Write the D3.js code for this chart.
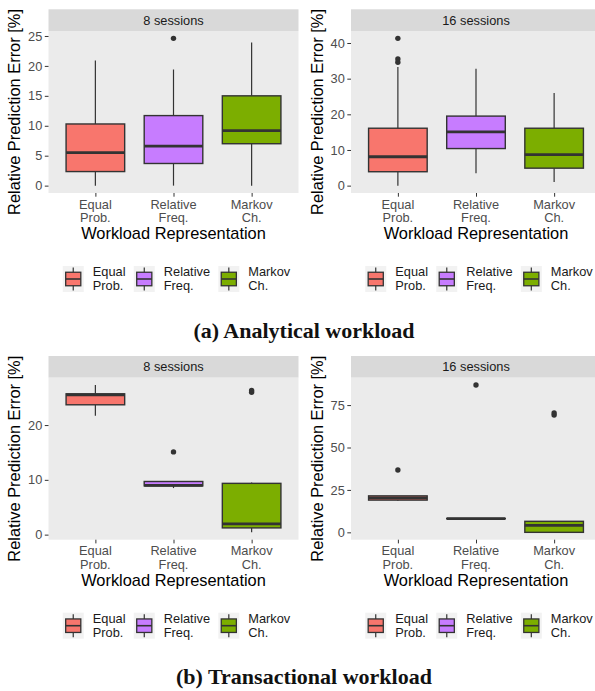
<!DOCTYPE html>
<html>
<head>
<meta charset="utf-8">
<script src="https://cdn.jsdelivr.net/npm/d3@7"></script>
<style>
  body { margin: 0; background: #fff; }
  svg text { font-family: "Liberation Sans", Arial, sans-serif; }
</style>
</head>
<body>
<svg id="chart"></svg>
<script>
// categories and their two-line tick labels
var categories = ["Equal Prob.", "Relative Freq.", "Markov Ch."];
var tickLines = [["Equal", "Prob."], ["Relative", "Freq."], ["Markov", "Ch."]];
var fills = ["#F8766D", "#C77CFF", "#7CAE00"];

// box stats: [lower whisker, Q1, median, Q3, upper whisker]
var analytical8 = [[0, 2.35, 5.5, 10.3, 20.9], [0, 3.7, 6.6, 11.7, 19.4], [0, 7.0, 9.2, 15.0, 23.9]];
var analytical8Outliers = [[], [24.6], []];
var analytical8Ticks = [0, 5, 10, 15, 20, 25];

var analytical16 = [[0, 3.9, 8.1, 16.1, 33.3], [3.5, 10.4, 15.1, 19.5, 32.8], [1.0, 4.9, 8.7, 16.1, 26.0]];
var analytical16Outliers = [[34.6, 35.5, 41.3], [], []];
var analytical16Ticks = [0, 10, 20, 30, 40];

var transactional8 = [[21.7, 23.7, 25.5, 25.7, 27.3], [8.5, 8.9, 9.0, 9.7, 9.7], [0.42, 1.23, 1.96, 9.36, 9.5]];
var transactional8Outliers = [[], [15.1], [26.0, 26.3]];
var transactional8Ticks = [0, 10, 20];

var transactional16 = [[18.6, 19.0, 20.3, 21.5, 21.5], [8.0, 8.05, 8.1, 8.15, 8.2], [0, 0, 4.1, 6.5, 6.5]];
var transactional16Outliers = [[36.7], [86.8], [69.1, 70.3]];
var transactional16Ticks = [0, 25, 50, 75];

var width = 595, height = 691;
var svg = d3.select("#chart").attr("width", width).attr("height", height);

var panelW = 250, stripH = 21.7, panelH = 162;
var dark = "#333333";

function drawPlot(left, top, stats, outliers, ticks, title) {
    var g = svg.append("g");
    var pTop = top + stripH, pBot = pTop + panelH;

    var x = d3.scalePoint().domain(categories).range([left, left + panelW]).padding(0.6);
    var boxW = x.step() * 0.75;

    var all = [];
    stats.forEach(function (s) { all = all.concat(s); });
    outliers.forEach(function (o) { all = all.concat(o); });
    var ext = d3.extent(all), pad = (ext[1] - ext[0]) * 0.05;
    var y = d3.scaleLinear().domain([ext[0] - pad, ext[1] + pad]).range([pBot, pTop]);

    // strip
    g.append("rect").attr("x", left).attr("y", top).attr("width", panelW).attr("height", stripH)
        .attr("fill", "#d9d9d9");
    g.append("text").attr("x", left + panelW / 2).attr("y", top + stripH / 2 + 4.5)
        .attr("text-anchor", "middle").attr("font-size", "12.8px").attr("fill", "#1a1a1a")
        .text(title);

    // panel
    g.append("rect").attr("x", left).attr("y", pTop).attr("width", panelW).attr("height", panelH)
        .attr("fill", "#ebebeb");

    // boxes
    stats.forEach(function (s, i) {
        var cx = x(categories[i]);
        g.append("line").attr("x1", cx).attr("x2", cx).attr("y1", y(s[4])).attr("y2", y(s[3]))
            .attr("stroke", dark).attr("stroke-width", 1.2);
        g.append("line").attr("x1", cx).attr("x2", cx).attr("y1", y(s[1])).attr("y2", y(s[0]))
            .attr("stroke", dark).attr("stroke-width", 1.2);
        g.append("rect").attr("x", cx - boxW / 2).attr("y", y(s[3]))
            .attr("width", boxW).attr("height", Math.max(0, y(s[1]) - y(s[3])))
            .attr("fill", fills[i]).attr("stroke", dark).attr("stroke-width", 1.4);
        g.append("line").attr("x1", cx - boxW / 2).attr("x2", cx + boxW / 2)
            .attr("y1", y(s[2])).attr("y2", y(s[2]))
            .attr("stroke", dark).attr("stroke-width", 2.8);
        outliers[i].forEach(function (v) {
            g.append("circle").attr("cx", cx).attr("cy", y(v)).attr("r", 2.7).attr("fill", dark);
        });
    });

    // y axis
    var ya = g.append("g").attr("transform", "translate(" + left + ",0)")
        .call(d3.axisLeft(y).tickValues(ticks).tickSize(3.7).tickPadding(2.5));
    ya.select(".domain").remove();
    ya.selectAll(".tick line").attr("stroke", dark).attr("stroke-width", 1);
    ya.selectAll(".tick text").attr("font-size", "12.8px").attr("fill", "#4d4d4d")
        .attr("font-family", "Liberation Sans, Arial, sans-serif");

    // x axis
    var xa = g.append("g").attr("transform", "translate(0," + pBot + ")")
        .call(d3.axisBottom(x).tickSize(3.7).tickFormat(""));
    xa.select(".domain").remove();
    xa.selectAll(".tick line").attr("stroke", dark).attr("stroke-width", 1);
    tickLines.forEach(function (lines, i) {
        lines.forEach(function (t, j) {
            g.append("text").attr("x", x(categories[i])).attr("y", pBot + 15.5 + j * 13.5)
                .attr("text-anchor", "middle").attr("font-size", "12.8px").attr("fill", "#4d4d4d")
                .text(t);
        });
    });

    // axis titles
    g.append("text").attr("x", left + panelW / 2).attr("y", pBot + 46)
        .attr("text-anchor", "middle").attr("font-size", "16.4px").attr("fill", "#000")
        .text("Workload Representation");
    g.append("text")
        .attr("transform", "translate(" + (left - 28.5) + "," + (pTop + panelH / 2) + ") rotate(-90)")
        .attr("text-anchor", "middle").attr("font-size", "16.4px").attr("fill", "#000")
        .text("Relative Prediction Error [%]");

    // legend
    var keyW = 21, keyH = 26, ly = pBot + 73;
    var lg = g.append("g");
    var lx = 0;
    categories.forEach(function (c, i) {
        var it = lg.append("g").attr("transform", "translate(" + lx + "," + ly + ")");
        it.append("rect").attr("width", keyW).attr("height", keyH).attr("fill", "#f2f2f2");
        var kx = keyW / 2;
        it.append("line").attr("x1", kx).attr("x2", kx).attr("y1", keyH * 0.06).attr("y2", keyH * 0.94)
            .attr("stroke", dark).attr("stroke-width", 1.2);
        it.append("rect").attr("x", keyW * 0.14).attr("y", keyH * 0.24)
            .attr("width", keyW * 0.72).attr("height", keyH * 0.52)
            .attr("fill", fills[i]).attr("stroke", dark).attr("stroke-width", 1.3);
        it.append("line").attr("x1", keyW * 0.14).attr("x2", keyW * 0.86)
            .attr("y1", keyH / 2).attr("y2", keyH / 2).attr("stroke", dark).attr("stroke-width", 1.6);
        var maxW = 0;
        tickLines[i].forEach(function (t, j) {
            var tx = it.append("text").attr("x", 30).attr("y", 10 + j * 14)
                .attr("font-size", "12.8px").attr("fill", "#1a1a1a").text(t);
            maxW = Math.max(maxW, tx.node().getComputedTextLength());
        });
        lx += 30 + maxW + 8.3;
    });
    var total = lx - 8.3;
    lg.attr("transform", "translate(" + (left + panelW / 2 + 3 - total / 2) + ",0)");
}

var plotLeft = [48.5, 351];
var rowTop = [9.3, 356];

drawPlot(plotLeft[0], rowTop[0], analytical8, analytical8Outliers, analytical8Ticks, "8 sessions");
drawPlot(plotLeft[1], rowTop[0], analytical16, analytical16Outliers, analytical16Ticks, "16 sessions");
drawPlot(plotLeft[0], rowTop[1], transactional8, transactional8Outliers, transactional8Ticks, "8 sessions");
drawPlot(plotLeft[1], rowTop[1], transactional16, transactional16Outliers, transactional16Ticks, "16 sessions");

// captions
var captions = ["(a) Analytical workload", "(b) Transactional workload"];
var captionY = [338, 684];
captions.forEach(function (c, i) {
    svg.append("text").attr("x", 304).attr("y", captionY[i]).attr("text-anchor", "middle")
        .style("font-family", "'Liberation Serif', 'DejaVu Serif', serif")
        .attr("font-weight", "bold").attr("font-size", "22px").attr("fill", "#111")
        .text(c);
});
</script>
</body>
</html>
